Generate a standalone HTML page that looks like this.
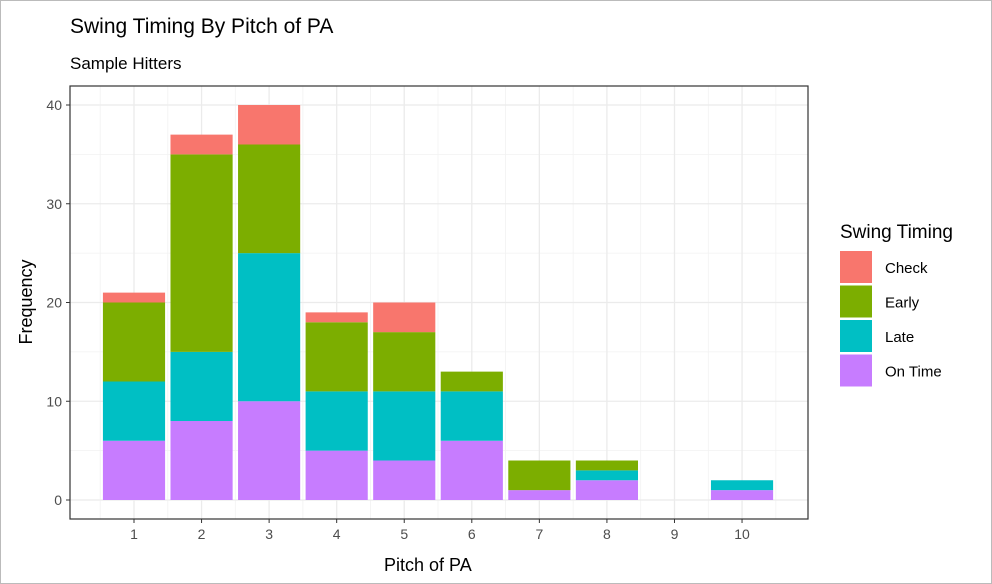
<!DOCTYPE html>
<html><head><meta charset="utf-8"><style>
body{margin:0;background:#fff;}
svg{display:block;font-family:"Liberation Sans",sans-serif;}
</style></head><body>
<svg id="c" width="992" height="584">
<rect x="0.5" y="0.5" width="991" height="583" fill="#fff" stroke="#bbb"/>
<text x="70" y="33" font-size="21" fill="#000">Swing Timing By Pitch of PA</text>
<text x="70" y="69" font-size="17" fill="#000">Sample Hitters</text>
<g id="grid"></g><g id="bars"></g><g id="axes"></g>
<rect x="70" y="86" width="738" height="433" fill="none" stroke="#333" stroke-width="1.2"/>
<text x="384" y="571" font-size="18" fill="#000">Pitch of PA</text>
<text transform="translate(32,302) rotate(-90)" text-anchor="middle" font-size="18" fill="#000">Frequency</text>
<g id="legend">
<text x="840" y="238" font-size="19" fill="#000">Swing Timing</text>
</g>
</svg>
<script>
const categories=[1,2,3,4,5,6,7,8,9,10];
const onTime=[6,8,10,5,4,6,1,2,0,1];
const late=[6,7,15,6,7,5,0,1,0,1];
const early=[8,20,11,7,6,2,3,1,0,0];
const check=[1,2,4,1,3,0,0,0,0,0];
const yTicks=[0,10,20,30,40];
const seriesNames=["Check","Early","Late","On Time"];
const colors={"Check":"#F8766D","Early":"#7CAE00","Late":"#00BFC4","On Time":"#C77CFF"};
const NS="http://www.w3.org/2000/svg";
const X=v=>134+(v-1)*67.56;
const Y=v=>500-v*9.875;
function mk(t,a,p){const e=document.createElementNS(NS,t);for(const k in a)e.setAttribute(k,a[k]);p.appendChild(e);return e;}
const grid=document.getElementById('grid'),bars=document.getElementById('bars'),axes=document.getElementById('axes'),leg=document.getElementById('legend');
// minor gridlines
for(let v=0.5;v<=10.5;v+=1){const l=mk('line',{x1:X(v),x2:X(v),y1:86,y2:519,stroke:'#f2f2f2','stroke-width':0.8},grid);
}
for(let v=5;v<=45;v+=10){if(Y(v)<86)continue;const l=mk('line',{x1:70,x2:808,y1:Y(v),y2:Y(v),stroke:'#f2f2f2','stroke-width':0.8},grid);
}
categories.forEach(c=>{const l=mk('line',{x1:X(c),x2:X(c),y1:86,y2:519,stroke:'#ebebeb','stroke-width':1.3},grid);

const t=mk('line',{x1:X(c),x2:X(c),y1:519,y2:523,stroke:'#333'},axes);

const tx=mk('text',{x:X(c),y:539,'text-anchor':'middle','font-size':14,fill:'#4d4d4d'},axes);tx.textContent=c;
});
yTicks.forEach(v=>{const l=mk('line',{x1:70,x2:808,y1:Y(v),y2:Y(v),stroke:'#ebebeb','stroke-width':1.3},grid);

const t=mk('line',{x1:66,x2:70,y1:Y(v),y2:Y(v),stroke:'#333'},axes);

const tx=mk('text',{x:62,y:Y(v)+5,'text-anchor':'end','font-size':14,fill:'#4d4d4d'},axes);tx.textContent=v;
});
const bw=0.92*67.56;
categories.forEach((c,i)=>{let base=0;
[["On Time",onTime[i]],["Late",late[i]],["Early",early[i]],["Check",check[i]]].forEach(([n,v])=>{
if(v<=0)return;const r=mk('rect',{x:X(c)-bw/2,y:Y(base+v),width:bw,height:Y(base)-Y(base+v),fill:colors[n]},bars);
base+=v;});});
seriesNames.forEach((n,i)=>{const y=251+i*34.5;
const r=mk('rect',{x:840,y:y,width:32,height:32,fill:colors[n]},leg);

const t=mk('text',{x:885,y:y+22,'font-size':15,fill:'#000'},leg);t.textContent=n;
});
</script>
</body></html>
